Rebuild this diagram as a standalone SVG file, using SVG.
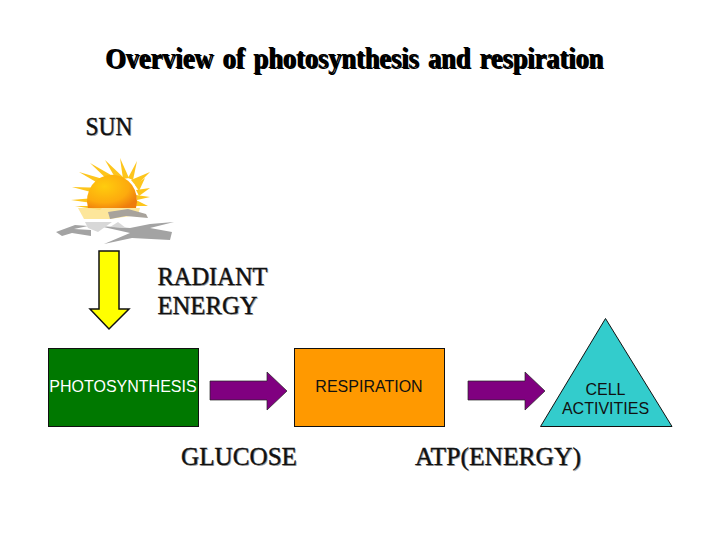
<svg xmlns="http://www.w3.org/2000/svg" width="720" height="540" viewBox="0 0 720 540">
<defs>
<style>
.s{font-family:"Liberation Serif","Times New Roman",serif;font-size:25px;fill:#111;stroke:#111;stroke-width:.35;}
.sh{fill:#aaa;stroke:none;}
.a{font-family:"Liberation Sans",Arial,sans-serif;font-size:16px;text-anchor:middle;}
.t{font-family:"Liberation Serif",serif;font-size:30px;font-weight:bold;fill:#000;word-spacing:3px;}
.box{stroke:#111;stroke-width:1;}
.arrow{fill:#800080;stroke:#222;stroke-width:.7;}
</style>
<radialGradient id="sunG" cx=".35" cy=".35" r=".75"><stop offset="0" stop-color="#ffcc10"/><stop offset=".65" stop-color="#fdaa08"/><stop offset="1" stop-color="#ee7c10"/></radialGradient>
<filter id="soft" x="-10%" y="-10%" width="120%" height="120%"><feGaussianBlur stdDeviation=".6"/></filter>
<path id="arr" d="M0 9H57V0L77 19 57 38V28H0Z"/>
</defs>
<rect width="720" height="540" fill="#fff"/>
<g id="title"><text class="t sh" x="106.500" y="69" textLength="498" lengthAdjust="spacingAndGlyphs">Overview of photosynthesis and respiration</text><text class="t" x="105" y="67.500" textLength="498" lengthAdjust="spacingAndGlyphs">Overview of photosynthesis and respiration</text></g>
<g id="sun-label"><text class="s sh" x="86.500" y="136" textLength="47" lengthAdjust="spacingAndGlyphs">SUN</text><text class="s" x="85.500" y="135" textLength="47" lengthAdjust="spacingAndGlyphs">SUN</text></g>
<g id="sun" filter="url(#soft)">
<g fill="#fdc51c">
<path d="M106 205L71 200 106 197Z"/><path d="M106 196L72 187 108 188Z"/><path d="M108 189L79 172 113 182Z"/><path d="M112 184L90 163 118 179Z"/><path d="M117 181L105 160 124 178Z"/><path d="M123 179L120 158 129 178Z"/><path d="M128 178L137 161 133 180Z"/><path d="M131 180L150 172 136 186Z"/><path d="M135 185L145 178 139 191Z"/><path d="M136 190L150 188 139 196Z"/><path d="M136 195L150 197 137 200Z"/><path d="M136 200L148 206 134 206Z"/><path d="M104 206L75 206 100 210Z"/>
</g>
<path d="M88 208A25 26 0 1 1 136 208Z" fill="url(#sunG)"/>
<path d="M78 208H140L138 215 110 219H84Z" fill="#fde28a" opacity=".85"/>
<path d="M108 212L128 209 146 214 148 218 126 216 110 219Z" fill="#a8a39c"/>
<g fill="#a3a3a3"><path d="M56 232L75 225 88 226 74 229 91 230 91 236 72 233 62 236Z"/><path d="M99 226L130 228 150 224 174 222 150 228 172 232 170 240 132 238 104 244 130 233Z"/></g>
<g fill="#d8d8d8"><path d="M85 222H112L98 232 88 228Z"/><path d="M118 222L126 228 110 227Z"/></g>
</g>
<g id="connectors">
<path id="arrow-sun" d="M99 251H119V309H129L109 329 90 309H99Z" fill="#ff0" stroke="#111" stroke-width="1.500"/>
<use id="arrow-1" href="#arr" x="210" y="372" class="arrow"/>
<use id="arrow-2" href="#arr" x="468" y="372" class="arrow"/>
</g>
<g id="radiant"><text class="s sh" x="158.500" y="286" textLength="110" lengthAdjust="spacingAndGlyphs">RADIANT</text><text class="s" x="157.500" y="285" textLength="110" lengthAdjust="spacingAndGlyphs">RADIANT</text><text class="s sh" x="158.500" y="315" textLength="100" lengthAdjust="spacingAndGlyphs">ENERGY</text><text class="s" x="157.500" y="314" textLength="100" lengthAdjust="spacingAndGlyphs">ENERGY</text></g>
<g id="photosynthesis"><rect class="box" x="48.500" y="348.500" width="150" height="78" fill="#007800"/><text class="a" x="123" y="392" fill="#fff">PHOTOSYNTHESIS</text></g>
<g id="respiration"><rect class="box" x="294.500" y="348.500" width="150" height="78" fill="#ff9900"/><text class="a" x="369" y="392" fill="#111">RESPIRATION</text></g>
<g id="cell"><path d="M605.500 318.500L540.500 426.500H672Z" fill="#33cccc" stroke="#111"/><text class="a" x="605.500" y="395" fill="#111">CELL</text><text class="a" x="605.500" y="414" fill="#111">ACTIVITIES</text></g>
<g id="glucose"><text class="s sh" x="182" y="466" textLength="116" lengthAdjust="spacingAndGlyphs">GLUCOSE</text><text class="s" x="181" y="465" textLength="116" lengthAdjust="spacingAndGlyphs">GLUCOSE</text></g>
<g id="atp"><text class="s sh" x="416" y="466" textLength="166" lengthAdjust="spacingAndGlyphs">ATP(ENERGY)</text><text class="s" x="415" y="465" textLength="166" lengthAdjust="spacingAndGlyphs">ATP(ENERGY)</text></g>
</svg>
